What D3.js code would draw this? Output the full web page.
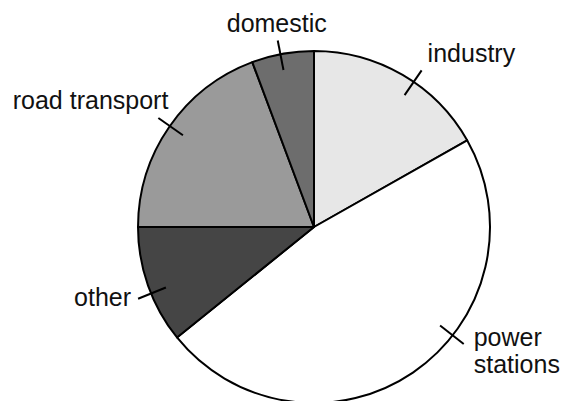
<!DOCTYPE html>
<html>
<head>
<meta charset="utf-8">
<script src="https://cdn.jsdelivr.net/npm/d3@7"></script>
<style>
  html, body { margin: 0; padding: 0; background: #fff; }
  svg { display: block; }
  text { font-family: "Liberation Sans", Arial, sans-serif; fill: #111; }
</style>
</head>
<body>
<svg id="chart" width="562" height="401"></svg>
<script>
// ---- data ----
const categories = ["industry", "power stations", "other", "road transport", "domestic"];
const values = [16.8, 47.4, 10.8, 19.3, 5.7];
const fills = ["#e7e7e7", "#ffffff", "#454545", "#9a9a9a", "#6d6d6d"];

// ---- layout (label leader placement) ----
const layout = {
  cx: 314, cy: 227, r: 176,
  leaderInner: 16, leaderOuter: 14,
  fontSize: 25, lineHeight: 27,
  labels: {
    "industry":       { angle: 34.5, dx: 6,  dy: -8, anchor: "start" },
    "power stations": { angle: 128,  dx: 10, dy: 2,  anchor: "start", lines: ["power", "stations"] },
    "other":          { angle: 247.8, dx: -7, dy: 7, anchor: "end" },
    "road transport": { angle: 305,  dx: 10, dy: -9, anchor: "end" },
    "domestic":       { angle: 349,  dx: -1, dy: -9, anchor: "middle" }
  }
};

const svg = d3.select("#chart");
const g = svg.append("g").attr("transform", `translate(${layout.cx},${layout.cy})`);

const pie = d3.pie().sort(null).value(d => d.value);
const arcs = pie(categories.map((c, i) => ({ name: c, value: values[i], fill: fills[i] })));
const arc = d3.arc().innerRadius(0).outerRadius(layout.r);

g.selectAll("path.slice")
  .data(arcs)
  .join("path")
  .attr("class", "slice")
  .attr("d", arc)
  .attr("fill", d => d.data.fill)
  .attr("stroke", "#000")
  .attr("stroke-width", 2)
  .attr("stroke-linejoin", "round");

function polar(angleDeg, rad) {
  const a = angleDeg * Math.PI / 180;
  return [Math.sin(a) * rad, -Math.cos(a) * rad];
}

categories.forEach(name => {
  const L = layout.labels[name];
  const p1 = polar(L.angle, layout.r - layout.leaderInner);
  const p2 = polar(L.angle, layout.r + layout.leaderOuter);
  g.append("line")
    .attr("x1", p1[0]).attr("y1", p1[1])
    .attr("x2", p2[0]).attr("y2", p2[1])
    .attr("stroke", "#000").attr("stroke-width", 2);
  const lines = L.lines || [name];
  const t = g.append("text")
    .attr("x", p2[0] + L.dx)
    .attr("y", p2[1] + L.dy)
    .attr("text-anchor", L.anchor)
    .attr("font-size", layout.fontSize);
  lines.forEach((ln, i) => {
    t.append("tspan")
      .attr("x", p2[0] + L.dx)
      .attr("dy", i === 0 ? 0 : layout.lineHeight)
      .text(ln);
  });
});
</script>
</body>
</html>
